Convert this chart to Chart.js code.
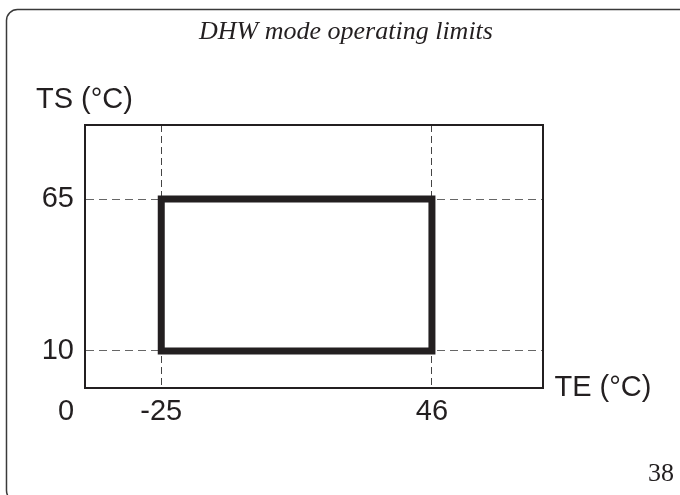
<!DOCTYPE html>
<html>
<head>
<meta charset="utf-8">
<script src="https://cdn.jsdelivr.net/npm/chart.js@4/dist/chart.umd.min.js"></script>
<style>
  body { margin: 0; background: #fff; }
  canvas { display: block; }
</style>
</head>
<body>
<canvas id="myChart" width="680" height="495"></canvas>
<script>
var chartTitle = 'DHW mode operating limits';
var xAxisTitle = 'TE (°C)';
var yAxisTitle = 'TS (°C)';
var originLabel = '0';
var pageNumber = '38';

var xTicks = [-25, 46];
var yTicks = [10, 65];

// operating envelope, corner by corner
var limitTE = [-25, 46, 46, -25, -25];
var limitTS = [10, 10, 65, 65, 10];

var ink = '#231f20';
var sans = '"Liberation Sans", Arial, sans-serif';
var serif = '"Liberation Serif", "Times New Roman", serif';

var points = limitTE.map(function(te, i) { return {x: te, y: limitTS[i]}; });

// page frame, title, axis names and the origin label
var decorations = {
  id: 'decorations',
  beforeDraw: function(chart) {
    var c = chart.ctx;
    c.save();
    c.strokeStyle = '#3a3a3a';
    c.lineWidth = 1.5;
    c.beginPath();
    c.roundRect(6.5, 9.5, 690, 492, 11);
    c.stroke();
    c.restore();
  },
  afterDraw: function(chart) {
    var c = chart.ctx;
    var area = chart.chartArea;
    c.save();
    c.fillStyle = ink;

    c.font = 'italic 26px ' + serif;
    c.textAlign = 'center';
    c.textBaseline = 'alphabetic';
    c.fillText(chartTitle, 346, 39);

    c.font = '26px ' + serif;
    c.fillText(pageNumber, 661, 481);

    c.font = '29px ' + sans;
    c.textAlign = 'left';
    c.fillText(yAxisTitle, 36, 108);
    c.fillText(xAxisTitle, area.right + 12, 396);

    c.font = '29px ' + sans;
    c.textAlign = 'center';
    c.textBaseline = 'middle';
    c.fillText(originLabel, area.left - 19, area.bottom + 7 + 17.4);
    c.restore();
  }
};

var ctx = document.getElementById('myChart').getContext('2d');
var chart = new Chart(ctx, {
    type: 'scatter',
    data: {
        datasets: [{
            label: 'DHW limits',
            data: points,
            showLine: true,
            borderColor: ink,
            backgroundColor: ink,
            borderWidth: 7,
            borderJoinStyle: 'miter',
            borderCapStyle: 'square',
            pointRadius: 0,
            pointHoverRadius: 0,
            tension: 0
        }]
    },
    options: {
        responsive: false,
        animation: false,
        events: [],
        layout: {
            padding: { left: 0, top: 125, right: 137.5, bottom: 47 }
        },
        plugins: {
            legend: { display: false },
            title: { display: false },
            tooltip: { enabled: false }
        },
        scales: {
            x: {
                type: 'linear',
                position: 'bottom',
                min: -45,
                max: 75,
                afterBuildTicks: function(scale) {
                    scale.ticks = xTicks.map(function(v) { return {value: v}; });
                },
                afterFit: function(scale) { scale.height = 60; },
                ticks: {
                    color: ink,
                    padding: 7,
                    maxRotation: 0,
                    font: { family: sans, size: 29 }
                },
                grid: { color: '#444', lineWidth: 1, drawTicks: false },
                border: { display: true, color: ink, width: 2, dash: [7, 4] }
            },
            y: {
                type: 'linear',
                position: 'left',
                min: -3.4,
                max: 91.8,
                afterBuildTicks: function(scale) {
                    scale.ticks = yTicks.map(function(v) { return {value: v}; });
                },
                afterFit: function(scale) { scale.width = 85; },
                ticks: {
                    color: ink,
                    padding: 11,
                    font: { family: sans, size: 29 }
                },
                grid: { color: '#666', lineWidth: 1, drawTicks: false },
                border: { display: true, color: ink, width: 2, dash: [8, 5] }
            },
            xTop: {
                type: 'linear',
                position: 'top',
                min: -45,
                max: 75,
                afterFit: function(scale) { scale.height = 0; },
                ticks: { display: false },
                grid: { display: false },
                border: { display: true, color: ink, width: 2 }
            },
            yRight: {
                type: 'linear',
                position: 'right',
                min: -3.4,
                max: 91.8,
                afterFit: function(scale) { scale.width = 0; },
                ticks: { display: false },
                grid: { display: false },
                border: { display: true, color: ink, width: 2 }
            }
        }
    },
    plugins: [decorations]
});
</script>
</body>
</html>
